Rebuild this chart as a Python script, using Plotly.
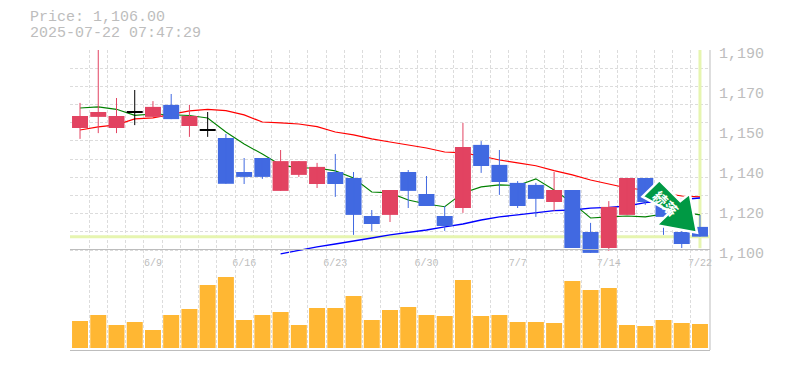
import plotly.graph_objects as go

# ---------- data ----------
idx = list(range(35))
date_ticks = [4, 9, 14, 19, 24, 29, 34]
date_labels = ["6/9", "6/16", "6/23", "6/30", "7/7", "7/14", "7/22"]
price_ticks = [1190, 1172, 1154, 1136, 1118, 1100]
price_labels = ["1,190", "1,170", "1,150", "1,140", "1,120", "1,100"]

opens = [1154.9, 1159.9, 1154.9, 1161.8, 1159.9, 1165.3, 1155.8, 1153.9, 1150.4, 1135.1,
         1141.4, 1126.6, 1133.8, 1129.7, 1135.1, 1132.4, 1115.3, 1115.8, 1135.1, 1125.2,
         1115.3, 1118.9, 1147.3, 1138.3, 1130.2, 1129.3, 1121.6, 1127.0, 1108.1, 1100.9,
         1115.8, 1132.4, 1123.4, 1108.1, 1110.4]
closes = [1160.3, 1162.1, 1160.3, 1161.8, 1164.4, 1158.9, 1160.3, 1153.9, 1129.8, 1132.9,
          1132.9, 1140.0, 1140.0, 1137.4, 1129.7, 1115.8, 1111.7, 1127.0, 1126.6, 1119.8,
          1110.8, 1146.4, 1137.8, 1130.6, 1119.8, 1123.0, 1127.0, 1100.9, 1098.7, 1119.4,
          1132.4, 1121.6, 1114.9, 1102.7, 1106.0]
highs = [1166.2, 1190.0, 1168.4, 1172.0, 1167.0, 1170.2, 1165.3, 1162.1, 1152.2, 1141.4,
         1141.4, 1145.0, 1140.0, 1139.2, 1143.2, 1135.1, 1118.0, 1127.0, 1136.0, 1133.3,
         1119.8, 1157.2, 1149.0, 1145.0, 1131.0, 1130.2, 1135.1, 1127.0, 1112.2, 1122.0,
         1132.4, 1132.4, 1127.0, 1111.3, 1115.8]
lows = [1150.0, 1152.6, 1152.6, 1156.2, 1159.9, 1158.9, 1150.9, 1150.9, 1129.8, 1129.7,
        1132.0, 1126.6, 1132.9, 1127.9, 1123.9, 1106.8, 1108.6, 1112.6, 1118.9, 1119.8,
        1108.6, 1116.7, 1134.7, 1124.8, 1118.9, 1114.9, 1117.6, 1100.9, 1098.7, 1099.6,
        1115.8, 1120.3, 1106.8, 1100.9, 1106.0]
ma_red = [1154.0, 1155.4, 1156.3, 1159.0, 1159.5, 1161.2, 1162.6, 1163.3, 1162.7, 1160.8,
          1157.6, 1157.2, 1156.7, 1155.5, 1153.1, 1151.8, 1150.0, 1148.6, 1147.3, 1145.9,
          1144.1, 1143.7, 1142.3, 1140.5, 1139.2, 1137.9, 1135.7, 1133.8, 1131.5, 1129.7,
          1127.9, 1127.0, 1125.7, 1124.3, 1123.9]
ma_green = [1163.9, 1164.4, 1163.3, 1160.6, 1161.2, 1160.8, 1160.5, 1159.4, 1153.1, 1147.7,
            1143.2, 1138.3, 1136.9, 1136.9, 1135.6, 1132.4, 1126.1, 1125.7, 1122.5, 1120.7,
            1119.5, 1125.7, 1128.4, 1129.3, 1129.0, 1132.0, 1127.0, 1121.2, 1114.4, 1114.9,
            1115.3, 1114.9, 1116.2, 1117.1, 1115.8]
ma_blue = [None] * 11 + [1098.3, 1100.0, 1101.4, 1102.7, 1104.2, 1105.4, 1106.8, 1107.8, 1109.0,
                         1110.4, 1111.7, 1113.5, 1114.9, 1115.8, 1116.8, 1117.7, 1118.0, 1118.8,
                         1119.2, 1119.8, 1121.3, 1122.0, 1123.0, 1123.4]
volume = [27, 33, 23, 26, 18, 33, 39, 63, 71, 28, 33, 36, 23, 40, 40, 52, 28, 38, 41, 33,
          32, 68, 32, 33, 26, 26, 25, 67, 58, 60, 23, 22, 28, 25, 24]
last_price = 1106.0
title_lines = ["Price: 1,106.00", "2025-07-22 07:47:29"]
badge_text = "続落"

# ---------- styles ----------
RED, BLUE, BLACK = "#e24361", "#4169e1", "#000000"
GRID, FRAME, TEXT = "#dcdcdc", "#bdbdbd", "#bdbdbd"
MONO = "Liberation Mono, DejaVu Sans Mono, monospace"
def colour(o, c):
    return BLACK if o == c else (RED if c > o else BLUE)
colours = [colour(o, c) for o, c in zip(opens, closes)]

fig = go.Figure()

# lower layer of main pane: last-price crosshair and moving averages
fig.add_trace(go.Scatter(x=[-0.55, 34.55], y=[last_price, last_price], mode="lines",
                         line=dict(color="#e6f5b0", width=3), hoverinfo="skip"))
fig.add_trace(go.Scatter(x=[34, 34], y=[1100.8, 1190], mode="lines",
                         line=dict(color="#e6f5b0", width=3), hoverinfo="skip"))
for ma, c, w in ((ma_red, "#ff0000", 1.2), (ma_green, "#008000", 1.1), (ma_blue, "#0000ff", 1.3)):
    fig.add_trace(go.Scatter(x=idx, y=ma, mode="lines", line=dict(color=c, width=w), hoverinfo="skip"))

# upper layer: candle wicks and bodies on an overlay pair of axes
for col in (RED, BLUE, BLACK):
    wx, wy = [], []
    for i in idx:
        if colours[i] == col:
            wx += [i, i, None]
            wy += [lows[i], highs[i], None]
    fig.add_trace(go.Scatter(x=wx, y=wy, mode="lines", xaxis="x3", yaxis="y3",
                             line=dict(color=col, width=1), hoverinfo="skip"))
body_base = [min(o, c) for o, c in zip(opens, closes)]
body_h = [abs(o - c) if o != c else 0.45 for o, c in zip(opens, closes)]
fig.add_trace(go.Bar(x=idx, y=body_h, base=body_base, width=0.877, marker=dict(color=colours, line=dict(width=0)),
                     xaxis="x3", yaxis="y3"))

# volume
fig.add_trace(go.Bar(x=idx, y=volume, width=0.877, marker=dict(color="#ffb733", line=dict(width=0)),
                     xaxis="x2", yaxis="y2"))

grid_x = [i - 0.5 for i in range(36)]
grid_y = [1100 + k * 90 / 11 for k in range(12)]
xrange = [-0.55, 34.55]
price_range = [1097.75, 1190]   # the pane runs 5px under the 1,100 level so low marks are not cut off

# the page body adds an 8px margin, so the figure is 8px smaller and its margins compensate
fig.update_layout(
    width=777, height=362, showlegend=False, barmode="overlay",
    margin=dict(l=62, r=75, t=42, b=20, autoexpand=False), paper_bgcolor="white", plot_bgcolor="rgba(0,0,0,0)",
    font=dict(family=MONO, color=TEXT),
    xaxis=dict(domain=[0, 1], range=xrange, tickmode="array", tickvals=date_ticks, ticktext=date_labels,
               showgrid=False, zeroline=False, showline=False, automargin=False,
               ticks="", tickfont=dict(size=10, color=TEXT), ticklabelstandoff=0, anchor="y",
               minor=dict(tickvals=grid_x, showgrid=True, gridcolor=GRID, griddash="3px,2px", gridwidth=1, ticks="")),
    yaxis=dict(domain=[95 / 300, 1], range=price_range, side="right", anchor="x", tickmode="array",
               tickvals=price_ticks, ticktext=price_labels, showgrid=False, zeroline=False, showline=False,
               automargin=False, ticks="", tickfont=dict(size=15, color=TEXT), ticklabelstandoff=8, ticklabelshift=3,
               minor=dict(tickvals=grid_y, showgrid=True, gridcolor=GRID, griddash="3px,2px", gridwidth=1, ticks="")),
    xaxis2=dict(domain=[0, 1], range=xrange, anchor="y2", showticklabels=False, showgrid=False, zeroline=False,
                showline=True, mirror=True, linecolor=FRAME, linewidth=1, ticks="", automargin=False,
                minor=dict(tickvals=grid_x, showgrid=True, gridcolor=GRID, griddash="3px,2px", gridwidth=1, ticks="")),
    yaxis2=dict(domain=[0, 1 / 3], range=[-2, 98], anchor="x2", side="right", showticklabels=False, showgrid=False,
                zeroline=False, showline=False, ticks="", automargin=False),
    xaxis3=dict(overlaying="x", range=xrange, anchor="y3", visible=False),
    yaxis3=dict(overlaying="y", range=price_range, anchor="x3", side="right", visible=False),
)

# frame: right edge
def px(x, y):
    return (x - 70) / 640, (350 - y) / 300
fig.add_shape(type="line", xref="paper", yref="paper", x0=1, x1=1, y0=0, y1=1,
              line=dict(color=FRAME, width=1), layer="below")

# badge arrow
outline = [(659.3, 180.2), (680.3, 201), (689.8, 193.5), (697, 232.7), (656.5, 225.2), (670.3, 211.7), (642.5, 196.7)]
path = "M " + " L ".join("%.4f,%.4f" % px(*p) for p in outline) + " Z"
fig.add_shape(type="path", xref="paper", yref="paper", path=path, fillcolor="#009944",
              line=dict(color="white", width=2.5), layer="above")
bx, by = px(665.8, 203)
fig.add_annotation(xref="paper", yref="paper", x=bx, y=by, xanchor="center", yanchor="middle",
                   text="<b>" + badge_text + "</b>", showarrow=False, textangle=45,
                   font=dict(family="Noto Sans CJK JP", size=14, color="white"))

# header
for line, ty in zip(title_lines, (18, 33)):
    tx, typ = px(28, ty)
    fig.add_annotation(xref="paper", yref="paper", x=tx, y=typ, xanchor="left", yanchor="middle",
                       text=line, showarrow=False, font=dict(family=MONO, size=15, color=TEXT))

fig.write_html("out.html")
